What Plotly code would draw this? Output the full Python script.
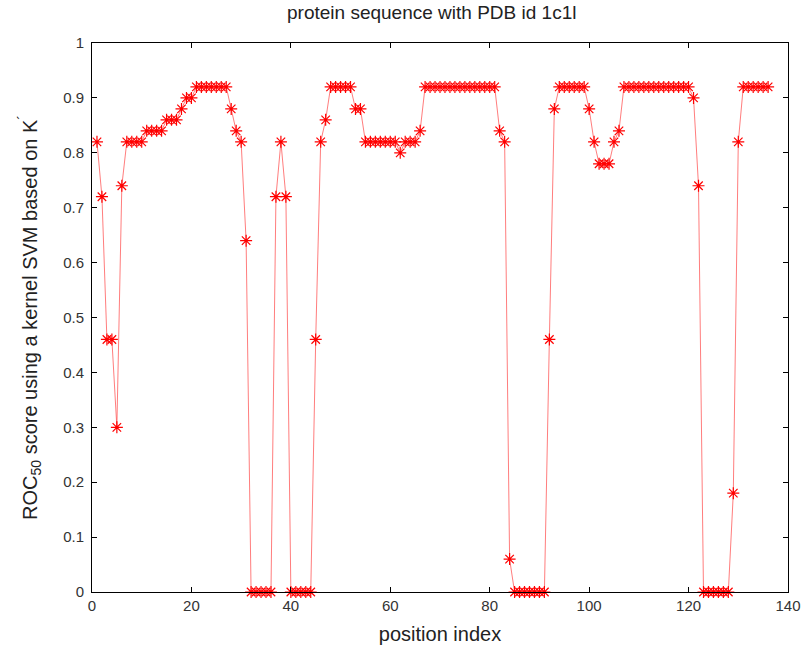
import plotly.graph_objects as go

positions = list(range(1, 137))
roc50 = [
    0.82, 0.72, 0.46, 0.46, 0.30, 0.74, 0.82, 0.82, 0.82, 0.82,   # 1-10
    0.84, 0.84, 0.84, 0.84, 0.86, 0.86, 0.86, 0.88, 0.90, 0.90,   # 11-20
    0.92, 0.92, 0.92, 0.92, 0.92, 0.92, 0.92, 0.88, 0.84, 0.82,   # 21-30
    0.64, 0.00, 0.00, 0.00, 0.00, 0.00, 0.72, 0.82, 0.72, 0.00,   # 31-40
    0.00, 0.00, 0.00, 0.00, 0.46, 0.82, 0.86, 0.92, 0.92, 0.92,   # 41-50
    0.92, 0.92, 0.88, 0.88, 0.82, 0.82, 0.82, 0.82, 0.82, 0.82,   # 51-60
    0.82, 0.80, 0.82, 0.82, 0.82, 0.84, 0.92, 0.92, 0.92, 0.92,   # 61-70
    0.92, 0.92, 0.92, 0.92, 0.92, 0.92, 0.92, 0.92, 0.92, 0.92,   # 71-80
    0.92, 0.84, 0.82, 0.06, 0.00, 0.00, 0.00, 0.00, 0.00, 0.00,   # 81-90
    0.00, 0.46, 0.88, 0.92, 0.92, 0.92, 0.92, 0.92, 0.92, 0.88,   # 91-100
    0.82, 0.78, 0.78, 0.78, 0.82, 0.84, 0.92, 0.92, 0.92, 0.92,   # 101-110
    0.92, 0.92, 0.92, 0.92, 0.92, 0.92, 0.92, 0.92, 0.92, 0.92,   # 111-120
    0.90, 0.74, 0.00, 0.00, 0.00, 0.00, 0.00, 0.00, 0.18, 0.82,   # 121-130
    0.92, 0.92, 0.92, 0.92, 0.92, 0.92,                           # 131-136
]

x_ticks = [0, 20, 40, 60, 80, 100, 120, 140]
y_ticks = [0, 0.1, 0.2, 0.3, 0.4, 0.5, 0.6, 0.7, 0.8, 0.9, 1]
y_tick_text = ["0", "0.1", "0.2", "0.3", "0.4", "0.5", "0.6", "0.7", "0.8", "0.9", "1"]

FONT = "Liberation Sans, Arial, sans-serif"

fig = go.Figure()
fig.add_trace(go.Scatter(
    x=positions, y=roc50,
    mode="lines+markers",
    line=dict(color="rgba(255,70,70,0.7)", width=1),
    marker=dict(symbol="asterisk-open", size=10, color="red",
                line=dict(color="red", width=1.2)),
    cliponaxis=False,
    showlegend=False,
))

axis_common = dict(
    showgrid=False, zeroline=False,
    showline=True, linecolor="black", linewidth=1, mirror="ticks",
    ticks="inside", ticklen=5, tickcolor="black", tickwidth=1,
    tickfont=dict(family=FONT, size=15, color="#333333"),
    automargin=False,
)

fig.update_layout(
    width=810, height=646,
    margin=dict(l=92, r=22, t=43, b=54),
    paper_bgcolor="white", plot_bgcolor="white",
    title=dict(text="protein sequence with PDB id 1c1l",
               x=0.533, xanchor="center", y=1 - 12 / 646, yanchor="middle",
               font=dict(family=FONT, size=19, color="#222222")),
    xaxis=dict(range=[0, 140], tickvals=x_ticks,
               title=dict(text="position index", standoff=13,
                          font=dict(family=FONT, size=20, color="#222222")),
               **axis_common),
    yaxis=dict(range=[0, 1], tickvals=y_ticks, ticktext=y_tick_text,
               ticklabelstandoff=4,
               title=dict(text="ROC<sub>50</sub> score using a kernel SVM based on K<sup>´</sup>",
                          standoff=20,
                          font=dict(family=FONT, size=20, color="#222222")),
               **axis_common),
)

fig.write_html("out.html",
               config={"displayModeBar": False},
               post_script="document.body.style.margin='0px';document.body.style.overflow='hidden';")
